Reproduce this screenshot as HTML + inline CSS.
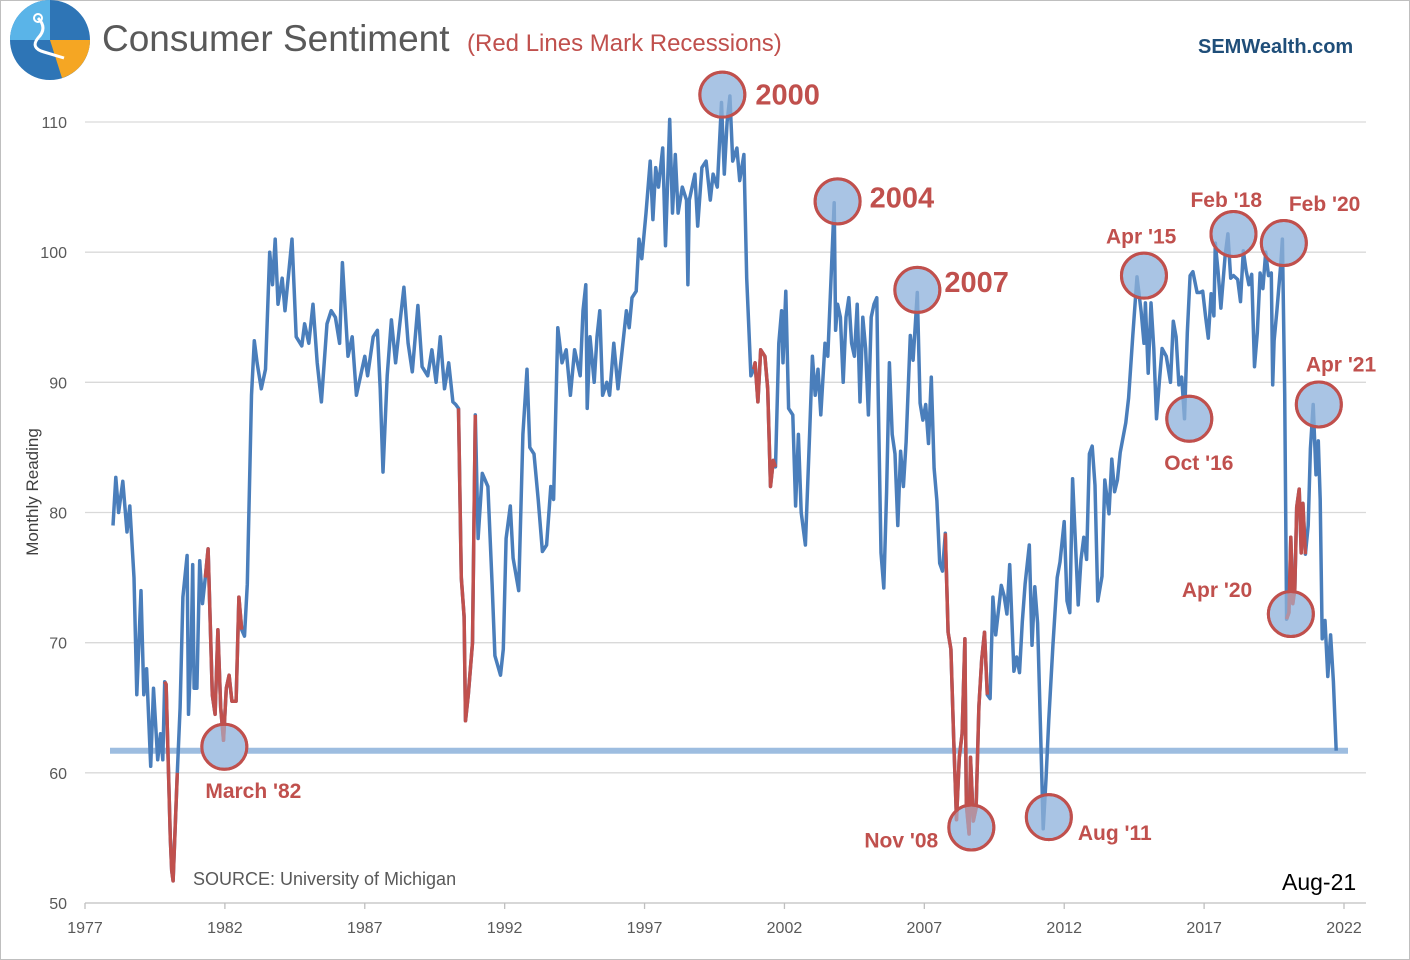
<!DOCTYPE html>
<html><head><meta charset="utf-8">
<style>
html,body{margin:0;padding:0;background:#fff;}
svg{display:block;font-family:"Liberation Sans",Arial,sans-serif;}
</style></head>
<body>
<svg id="chart" width="1410" height="960" viewBox="0 0 1410 960" xmlns="http://www.w3.org/2000/svg">
<rect x="0.5" y="0.5" width="1409" height="959" fill="#fff" stroke="#bfbfbf"/>
<g>
<circle cx="50" cy="40" r="40" fill="#2e75b6"/>
<path d="M50 40 L90 40 A40 40 0 0 1 62 78 Z" fill="#f5a623"/>
<path d="M50 40 L10 40 A40 40 0 0 1 50 0 Z" fill="#5ab4e8"/>
<path d="M38 18 q10 10 0 20 q-8 10 6 14 l20 6" stroke="#fff" stroke-width="3" fill="none"/>
<circle cx="38" cy="18" r="4" fill="none" stroke="#fff" stroke-width="2"/>
</g>
<text x="102" y="51" font-size="37" fill="#595959">Consumer Sentiment</text>
<text x="467" y="51" font-size="24" fill="#c0504d">(Red Lines Mark Recessions)</text>
<text x="1198" y="53" font-size="20" font-weight="bold" fill="#1f4e79">SEMWealth.com</text>
<g id="grid"></g>
<g id="yticks"></g>
<g id="xticks"></g>
<text transform="translate(38,492) rotate(-90)" text-anchor="middle" font-size="17" fill="#404040">Monthly Reading</text>
<g id="baseline"></g>
<g id="circles"></g>
<g id="series"></g>
<g id="annots"></g>
<text x="193" y="885" font-size="18" fill="#595959">SOURCE: University of Michigan</text>
<text x="1282" y="890" font-size="23" fill="#000">Aug-21</text>
</svg>
<script>
const yTicks=[50,60,70,80,90,100,110];
const xTicks=[1977,1982,1987,1992,1997,2002,2007,2012,2017,2022];
const recessions=[[1979.8,1980.35],[1981.3,1982.65],[1990.3,1990.97],[2000.85,2001.68],[2007.72,2009.25],[2019.9,2020.65]];
const refValue=61.7;
const dates=[1978.0,1978.1,1978.2,1978.35,1978.5,1978.6,1978.75,1978.85,1979.0,1979.1,1979.2,1979.35,1979.45,1979.6,1979.7,1979.78,1979.85,1979.9,1980.05,1980.1,1980.15,1980.3,1980.4,1980.5,1980.65,1980.7,1980.8,1980.85,1980.9,1981.0,1981.1,1981.2,1981.3,1981.4,1981.55,1981.65,1981.75,1981.85,1981.95,1982.05,1982.15,1982.25,1982.4,1982.5,1982.6,1982.7,1982.8,1982.95,1983.05,1983.15,1983.3,1983.45,1983.6,1983.7,1983.8,1983.9,1984.05,1984.15,1984.4,1984.55,1984.75,1984.85,1985.0,1985.15,1985.3,1985.45,1985.65,1985.8,1985.95,1986.1,1986.2,1986.4,1986.55,1986.7,1986.85,1987.0,1987.1,1987.3,1987.45,1987.55,1987.65,1987.8,1987.95,1988.1,1988.25,1988.4,1988.55,1988.7,1988.9,1989.05,1989.25,1989.4,1989.55,1989.7,1989.85,1990.0,1990.15,1990.25,1990.35,1990.45,1990.55,1990.6,1990.7,1990.85,1990.95,1991.05,1991.2,1991.4,1991.55,1991.65,1991.85,1991.95,1992.05,1992.2,1992.3,1992.5,1992.65,1992.8,1992.9,1993.05,1993.2,1993.35,1993.5,1993.65,1993.75,1993.9,1994.05,1994.2,1994.35,1994.5,1994.7,1994.8,1994.9,1994.95,1995.05,1995.2,1995.3,1995.4,1995.5,1995.65,1995.75,1995.9,1996.05,1996.2,1996.35,1996.45,1996.55,1996.7,1996.8,1996.9,1997.05,1997.2,1997.3,1997.4,1997.5,1997.65,1997.75,1997.9,1998.0,1998.1,1998.2,1998.35,1998.5,1998.55,1998.6,1998.8,1998.9,1999.05,1999.2,1999.35,1999.45,1999.6,1999.75,1999.85,1999.95,2000.05,2000.15,2000.3,2000.4,2000.55,2000.65,2000.75,2000.8,2000.9,2000.95,2001.05,2001.15,2001.3,2001.4,2001.5,2001.6,2001.68,2001.8,2001.9,2001.95,2002.05,2002.15,2002.3,2002.4,2002.5,2002.6,2002.75,2002.9,2003.0,2003.1,2003.2,2003.3,2003.45,2003.55,2003.78,2003.83,2003.9,2004.0,2004.1,2004.2,2004.3,2004.4,2004.5,2004.6,2004.7,2004.8,2004.9,2005.0,2005.1,2005.2,2005.3,2005.35,2005.45,2005.55,2005.65,2005.75,2005.85,2005.95,2006.05,2006.15,2006.25,2006.35,2006.5,2006.6,2006.75,2006.85,2006.95,2007.05,2007.15,2007.25,2007.35,2007.45,2007.55,2007.65,2007.75,2007.85,2007.95,2008.05,2008.15,2008.25,2008.35,2008.45,2008.5,2008.6,2008.65,2008.75,2008.85,2008.95,2009.05,2009.15,2009.25,2009.35,2009.45,2009.55,2009.65,2009.75,2009.85,2009.95,2010.05,2010.2,2010.3,2010.4,2010.5,2010.6,2010.75,2010.85,2010.95,2011.05,2011.15,2011.25,2011.35,2011.45,2011.6,2011.75,2011.85,2012.0,2012.1,2012.2,2012.3,2012.5,2012.6,2012.7,2012.8,2012.9,2013.0,2013.1,2013.2,2013.35,2013.45,2013.6,2013.7,2013.8,2013.9,2014.0,2014.2,2014.3,2014.45,2014.6,2014.75,2014.85,2014.9,2015.0,2015.1,2015.2,2015.3,2015.4,2015.5,2015.65,2015.8,2015.9,2016.0,2016.1,2016.2,2016.3,2016.4,2016.5,2016.6,2016.75,2016.85,2016.95,2017.05,2017.15,2017.25,2017.35,2017.4,2017.5,2017.6,2017.75,2017.85,2017.95,2018.05,2018.2,2018.3,2018.4,2018.5,2018.6,2018.7,2018.8,2018.9,2019.0,2019.1,2019.2,2019.3,2019.4,2019.45,2019.5,2019.6,2019.65,2019.75,2019.8,2019.88,2019.95,2020.03,2020.1,2020.17,2020.24,2020.31,2020.4,2020.47,2020.53,2020.62,2020.72,2020.8,2020.9,2021.0,2021.08,2021.15,2021.22,2021.32,2021.42,2021.52,2021.62,2021.72,2021.82];
const values=[79,82.7,80,82.4,78.5,80.5,75,66,74,66,68,60.5,66.5,61,63,61,67,66.8,55,52.5,51.7,60,65,73.5,76.7,64.5,70,76,66.5,66.5,76.3,73,75,77.2,66,64.5,71,65,62.5,66.5,67.5,65.5,65.5,73.5,71,70.5,74.5,89,93.2,91.5,89.5,91,100,97.5,101,96,98,95.5,101,93.5,92.8,94.5,93,96,91.5,88.5,94.5,95.5,95,93,99.2,92,93.5,89,90.5,92,90.5,93.5,94,89.5,83.1,90.5,94.8,91.5,94.5,97.3,93,90.8,95.9,91.2,90.5,92.5,90,93.5,89.5,91.5,88.5,88.3,88,75,72,64,66,70,87.5,78,83,82,74.5,69,67.5,69.5,78,80.5,76.5,74,86,91,85,84.5,81,77,77.5,82,81,94.2,91.5,92.5,89,92.5,90.5,95.5,97.5,88,93.5,90,93.5,95.5,89,90,89,93,89.5,92.5,95.5,94.2,96.5,97,101,99.5,103,107,102.5,106.5,105,108,100.5,110.2,103,107.5,103,105,104,97.5,104,106,102,106.5,107,104,106,105,111.5,106,110,112,107,108,105.5,107.5,98,93,90.5,91,91.5,88.5,92.5,92,89.5,82,84,83.5,93,95.5,91.5,97,88,87.5,80.5,86,80,77.5,86,92,89,91,87.5,93,92,103.8,94,96,95,90,95,96.5,93,92,96,88.5,95,92.6,87.5,95,96,96.5,89,76.9,74.2,81.6,91.5,86,84.5,79,84.7,82,85.4,93.6,91.7,96.9,88.4,87.1,88.3,85.3,90.4,83.4,80.9,76.1,75.5,78.4,70.8,69.5,62.6,56.4,61.2,63,70.3,57.6,55.3,61.2,56.3,57.3,65.1,68.7,70.8,66,65.7,73.5,70.6,72.5,74.4,73.6,72.2,76,67.8,68.9,67.7,71.6,74.5,77.5,69.8,74.3,71.5,63.7,55.7,59.5,64.1,69.9,75,76.2,79.3,73.2,72.3,82.6,72.9,76.4,78.1,76.4,84.5,85.1,82.1,73.2,75.1,82.5,79.9,84.1,81.6,82.5,84.6,86.9,88.8,93.6,98.1,95.4,93,96.1,90.7,96.1,92.6,87.2,90,92.6,92,90,94.7,93.5,89.8,90.4,87.2,93.8,98.2,98.5,96.9,96.9,97,95.1,93.4,96.8,95.1,100.7,98.5,95.7,99.7,101.4,98,98.2,97.9,96.2,100.1,98.6,97.5,98.3,91.2,93.8,98.4,97.2,100,98.2,98.4,89.8,93.2,95.5,96.8,99.3,101,89.1,71.8,72.3,78.1,73,74.1,80.4,81.8,76.9,80.7,76.8,79,84.9,88.3,82.9,85.5,81,70.3,71.7,67.4,70.6,67,61.7];
const annLabels=["2000","2004","2007","Apr '15","Feb '18","Feb '20","Oct '16","Apr '21","Apr '20","March '82","Nov '08","Aug '11"];
const annDates=[1999.78,2003.9,2006.75,2014.85,2018.05,2019.85,2016.47,2021.1,2020.1,1981.98,2008.68,2011.45];
const annValues=[112.1,103.9,97.1,98.2,101.4,100.7,87.2,88.3,72.2,62.0,55.8,56.6];
const annBig=[true,true,true,false,false,false,false,false,false,false,false,false];

const NS="http://www.w3.org/2000/svg";
const X0=85,X1=1344,Y0=903,Y1=122;
const xs=d=>X0+(d-1977)/(2022-1977)*(X1-X0);
const ys=v=>Y0-(v-50)/(110-50)*(Y0-Y1);
function mk(tag,attrs,parent){const e=document.createElementNS(NS,tag);for(const k in attrs)e.setAttribute(k,attrs[k]);parent.appendChild(e);return e;}
const grid=document.getElementById('grid'),yg=document.getElementById('yticks'),xg=document.getElementById('xticks');
yTicks.forEach(t=>{
  const l=mk('line',{x1:X0,x2:1366,y1:ys(t),y2:ys(t),stroke:t===50?'#bfbfbf':'#d9d9d9','stroke-width':1.3},grid);
  
  
  const tx=mk('text',{x:67,y:ys(t)+6,'text-anchor':'end','font-size':16,fill:'#595959'},yg);
  tx.textContent=t;
  
  
});
xTicks.forEach(t=>{
  const l=mk('line',{x1:xs(t),x2:xs(t),y1:Y0,y2:Y0+6,stroke:'#bfbfbf','stroke-width':1.3},xg);
  
  
  const tx=mk('text',{x:xs(t),y:933,'text-anchor':'middle','font-size':16,fill:'#595959'},xg);
  tx.textContent=t;
  
  
});
const bl=mk('line',{x1:110,x2:1348,y1:ys(refValue),y2:ys(refValue),stroke:'#9dbde0','stroke-width':6},document.getElementById('baseline'));


const cg=document.getElementById('circles');
annLabels.forEach((s,i)=>{
  const c=mk('circle',{cx:xs(annDates[i]),cy:ys(annValues[i]),r:22.5,fill:'#a9c4e4',stroke:'#c0504d','stroke-width':3},cg);
  
  
});
const sg=document.getElementById('series');
const pts=dates.map((d,i)=>xs(d).toFixed(1)+','+ys(values[i]).toFixed(1)).join(' ');
const main=mk('polyline',{points:pts,fill:'none',stroke:'#4a7ebb','stroke-width':3.5,'stroke-linejoin':'round'},sg);


recessions.forEach(r=>{
  const p=[];dates.forEach((d,i)=>{if(d>=r[0]&&d<=r[1])p.push(xs(d).toFixed(1)+','+ys(values[i]).toFixed(1));});
  const rl=mk('polyline',{points:p.join(' '),fill:'none',stroke:'#c0504d','stroke-width':3.5,'stroke-linejoin':'round'},sg);
  
  
});
const overlay=mk('g',{opacity:0.55},sg);
annLabels.forEach((s,i)=>{
  const c=mk('circle',{cx:xs(annDates[i]),cy:ys(annValues[i]),r:21,fill:'#a9c4e4'},overlay);
  
  
});
const ag=document.getElementById('annots');
const labelOff=[[33,0],[32,-4],[27,-8],[-38,-39],[-43,-34],[5,-39],[-25,44],[-13,-40],[-109,-24],[-19,44],[-107,13],[29,16]];
annLabels.forEach((s,i)=>{
  const cx=xs(annDates[i]),cy=ys(annValues[i]);
  const ring=mk('circle',{cx:cx,cy:cy,r:22.5,fill:'none',stroke:'#c0504d','stroke-width':3},ag);
  
  
  const t=mk('text',{x:cx+labelOff[i][0],y:cy+labelOff[i][1]+(annBig[i]?10:7),'font-size':annBig[i]?29:21,'font-weight':'bold',fill:'#c0504d'},ag);
  t.textContent=s;
  
  
});
</script>
</body></html>
